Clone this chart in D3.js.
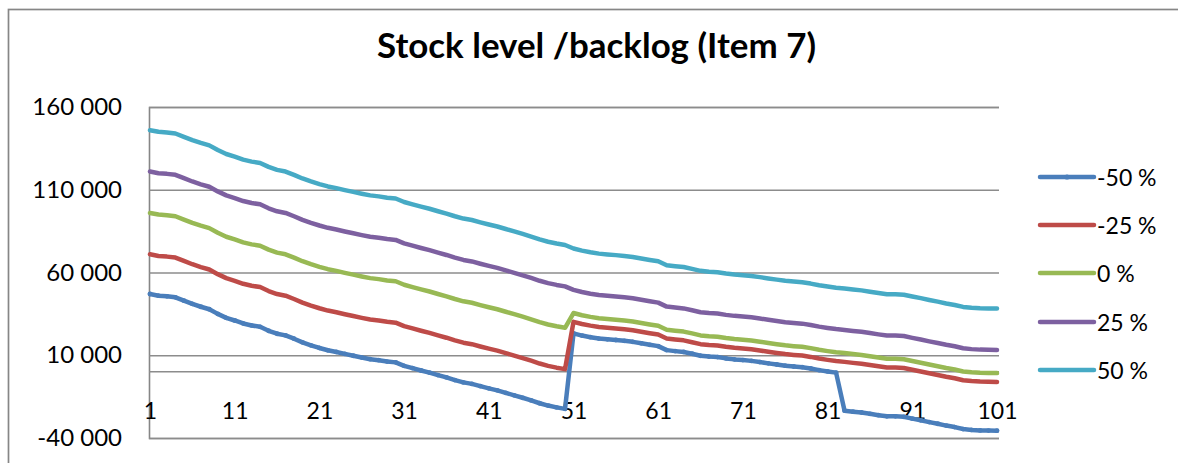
<!DOCTYPE html>
<html>
<head>
<meta charset="utf-8">
<script src="https://cdn.jsdelivr.net/npm/d3@7"></script>
<style>
  body { margin: 0; background: #fff; }
  svg { display: block; }
  text { font-family: Lato, "Open Sans", sans-serif; fill: #000; }
</style>
</head>
<body>
<svg id="chart" width="1178" height="463"></svg>
<script>
// Periods on the category axis
const periods = d3.range(1, 102);
const xTickLabels = [1, 11, 21, 31, 41, 51, 61, 71, 81, 91, 101];
const yTicks = [-40000, 10000, 60000, 110000, 160000];

const seriesNames = ["-50 %", "-25 %", "0 %", "25 %", "50 %"];

// Stock level per period for each demand scenario
const stockMinus50 = [
  47000, 46000, 45600, 45000, 43000, 41000, 39300, 37800, 35000, 32600,
  31000, 29200, 28000, 27200, 24800, 23000, 22000, 20000, 17800, 16000,
  14400, 13000, 12000, 10800, 9700, 8600, 7600, 7000, 6200, 5700,
  3600, 2200, 800, -500, -2000, -3400, -5000, -6400, -7300, -8700,
  -10000, -11200, -12700, -14200, -15700, -17300, -19000, -20400, -21500, -22400,
  23200, 21900, 20900, 20100, 19600, 19200, 18700, 18100, 17200, 16300,
  15500, 13100, 12500, 12000, 10900, 9700, 9200, 8900, 8100, 7500,
  7100, 6600, 5900, 5100, 4400, 3700, 3200, 2800, 2000, 1000,
  200, -500, -23500, -24100, -24600, -25400, -26200, -26900, -26900, -27200,
  -28300, -29300, -30400, -31400, -32500, -33400, -34600, -35100, -35400, -35500,
  -35600
];
const stockMinus25 = [
  71000, 70000, 69600, 69000, 67000, 65000, 63300, 61800, 59000, 56600,
  55000, 53200, 52000, 51200, 48800, 47000, 46000, 44000, 41800, 40000,
  38400, 37000, 36000, 34800, 33700, 32600, 31600, 31000, 30200, 29700,
  27600, 26200, 24800, 23500, 22000, 20600, 19000, 17600, 16700, 15300,
  14000, 12800, 11300, 9800, 8300, 6700, 5000, 3600, 2500, 1600,
  30200, 28900, 27900, 27100, 26600, 26200, 25700, 25100, 24200, 23300,
  22500, 20100, 19500, 19000, 17900, 16700, 16200, 15900, 15100, 14500,
  14100, 13600, 12900, 12100, 11400, 10700, 10200, 9800, 9000, 8000,
  7200, 6500, 6000, 5400, 4900, 4100, 3300, 2600, 2600, 2300,
  1200, 200, -900, -1900, -3000, -3900, -5100, -5600, -5900, -6000,
  -6100
];
const stockZero = [
  96000, 95000, 94600, 94000, 92000, 90000, 88300, 86800, 84000, 81600,
  80000, 78200, 77000, 76200, 73800, 72000, 71000, 69000, 66800, 65000,
  63400, 62000, 61000, 59800, 58700, 57600, 56600, 56000, 55200, 54700,
  52600, 51200, 49800, 48500, 47000, 45600, 44000, 42600, 41700, 40300,
  39000, 37800, 36300, 34800, 33300, 31700, 30000, 28600, 27500, 26600,
  35500, 34200, 33200, 32400, 31900, 31500, 31000, 30400, 29500, 28600,
  27800, 25400, 24800, 24300, 23200, 22000, 21500, 21200, 20400, 19800,
  19400, 18900, 18200, 17400, 16700, 16000, 15500, 15100, 14300, 13300,
  12500, 11800, 11300, 10700, 10200, 9400, 8600, 7900, 7900, 7600,
  6500, 5500, 4400, 3400, 2300, 1400, 200, -300, -600, -700,
  -800
];
const stockPlus25 = [
  121000, 120000, 119600, 119000, 117000, 115000, 113300, 111800, 109000, 106600,
  105000, 103200, 102000, 101200, 98800, 97000, 96000, 94000, 91800, 90000,
  88400, 87000, 86000, 84800, 83700, 82600, 81600, 81000, 80200, 79700,
  77600, 76200, 74800, 73500, 72000, 70600, 69000, 67600, 66700, 65300,
  64000, 62800, 61300, 59800, 58300, 56700, 55000, 53600, 52500, 51600,
  49500, 48200, 47200, 46400, 45900, 45500, 45000, 44400, 43500, 42600,
  41800, 39400, 38800, 38300, 37200, 36000, 35500, 35200, 34400, 33800,
  33400, 32900, 32200, 31400, 30700, 30000, 29500, 29100, 28300, 27300,
  26500, 25800, 25300, 24700, 24200, 23400, 22600, 21900, 21900, 21600,
  20500, 19500, 18400, 17400, 16300, 15400, 14200, 13700, 13400, 13300,
  13200
];
const stockPlus50 = [
  146000, 145000, 144600, 144000, 142000, 140000, 138300, 136800, 134000, 131600,
  130000, 128200, 127000, 126200, 123800, 122000, 121000, 119000, 116800, 115000,
  113400, 112000, 111000, 109800, 108700, 107600, 106600, 106000, 105200, 104700,
  102600, 101200, 99800, 98500, 97000, 95600, 94000, 92600, 91700, 90300,
  89000, 87800, 86300, 84800, 83300, 81700, 80000, 78600, 77500, 76600,
  74500, 73200, 72200, 71400, 70900, 70500, 70000, 69400, 68500, 67600,
  66800, 64400, 63800, 63300, 62200, 61000, 60500, 60200, 59400, 58800,
  58400, 57900, 57200, 56400, 55700, 55000, 54500, 54100, 53300, 52300,
  51500, 50800, 50300, 49700, 49200, 48400, 47600, 46900, 46900, 46600,
  45500, 44500, 43400, 42400, 41300, 40400, 39200, 38700, 38400, 38300,
  38200
];

const seriesValues = [stockMinus50, stockMinus25, stockZero, stockPlus25, stockPlus50];
const seriesColors = ["#4a7ebb", "#be4b48", "#98b954", "#7d60a0", "#46aac5"];

const svg = d3.select("#chart");
const W = 1178, H = 463;

// Chart frame (runs off the right and bottom edges)
svg.append("rect")
  .attr("x", 8.5).attr("y", 9.5)
  .attr("width", W + 20).attr("height", H + 20)
  .attr("fill", "none").attr("stroke", "#868686").attr("stroke-width", 1.7);

const plot = { left: 149, right: 999, top: 107, bottom: 438 };

const x = d3.scalePoint().domain(periods).range([150, 997]);
const y = d3.scaleLinear().domain([-40000, 160000]).range([plot.bottom, plot.top]);

const fmt = d3.formatLocale({ decimal: ",", thousands: " ", grouping: [3], currency: ["", ""], minus: "-" }).format(",");

// Horizontal gridlines + value axis labels
const yAxis = d3.axisLeft(y).tickValues(yTicks).tickFormat(fmt)
  .tickSize(-(plot.right - plot.left)).tickPadding(27);
const gy = svg.append("g").attr("transform", `translate(${plot.left},0)`).call(yAxis);
gy.select(".domain").attr("stroke", "#868686").attr("stroke-width", 1.6);
gy.selectAll(".tick line").attr("stroke", "#8c8c8c").attr("stroke-width", 1.6);
gy.selectAll(".tick text").style("font-size", "24px").attr("fill", "#000")
  .style("font-family", "Lato, 'Open Sans', sans-serif");

// Category axis crossing at zero
const xAxis = d3.axisBottom(x).tickValues(xTickLabels).tickSize(0).tickPadding(31);
const gx = svg.append("g").attr("transform", `translate(0,${y(0)})`).call(xAxis);
gx.select(".domain").attr("d", `M${plot.left},0H${plot.right}`)
  .attr("stroke", "#8c8c8c").attr("stroke-width", 1.6);
gx.selectAll(".tick text").style("font-size", "23px").attr("fill", "#000")
  .style("font-family", "Lato, 'Open Sans', sans-serif");

// Series lines
const line = d3.line().x((d, i) => x(periods[i])).y(d => y(d));
seriesValues.forEach((vals, k) => {
  svg.append("path")
    .datum(vals)
    .attr("d", line)
    .attr("fill", "none")
    .attr("stroke", seriesColors[k])
    .attr("stroke-width", 4.5)
    .attr("stroke-linejoin", "round")
    .attr("stroke-linecap", "round");
  if (k === 0) {
    svg.append("g").selectAll("circle").data(vals).join("circle")
      .attr("cx", (d, i) => x(periods[i])).attr("cy", d => y(d))
      .attr("r", 2.4).attr("fill", seriesColors[k]);
  }
});

// Title
svg.append("text")
  .attr("x", 596.5).attr("y", 58)
  .attr("text-anchor", "middle")
  .attr("textLength", 439).attr("lengthAdjust", "spacingAndGlyphs")
  .style("font-size", "34px").style("font-weight", "bold")
  .text("Stock level /backlog (Item 7)");

// Legend
const legendRows = [177, 225, 273, 322, 370];
const lg = svg.append("g");
seriesNames.forEach((name, k) => {
  const ly = legendRows[k];
  lg.append("line")
    .attr("x1", 1040).attr("x2", 1094).attr("y1", ly).attr("y2", ly)
    .attr("stroke", seriesColors[k]).attr("stroke-width", 4.5).attr("stroke-linecap", "round");
  if (k === 0) {
    lg.append("circle").attr("cx", 1067).attr("cy", ly).attr("r", 2.6).attr("fill", seriesColors[k]);
  }
  lg.append("text")
    .attr("x", 1097).attr("y", ly).attr("dominant-baseline", "central")
    .style("font-size", "23px")
    .text(name);
});
</script>
</body>
</html>
